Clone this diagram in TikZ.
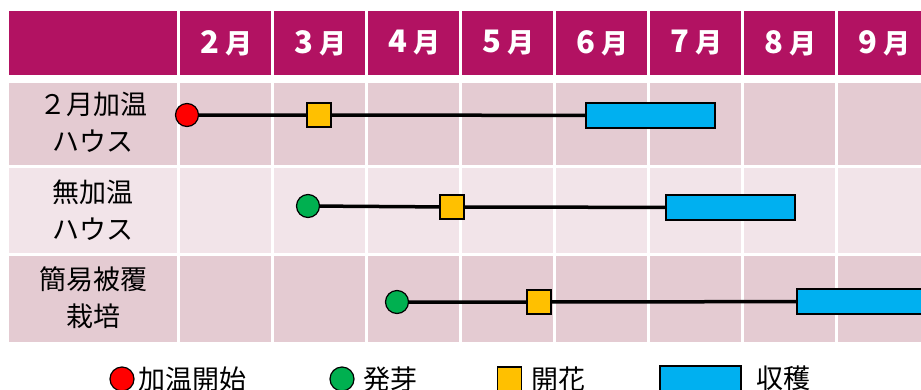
\documentclass[tikz,border=0pt]{standalone}
\usepackage{fontspec}
\setmainfont{Noto Sans CJK JP}
\usetikzlibrary{positioning}
\definecolor{headfill}{RGB}{178,18,98}
\definecolor{rowdark}{RGB}{228,203,210}
\definecolor{rowlight}{RGB}{242,228,233}
\definecolor{heatred}{RGB}{255,0,0}
\definecolor{sproutgreen}{RGB}{0,176,80}
\definecolor{bloomyellow}{RGB}{255,192,0}
\definecolor{harvestblue}{RGB}{0,176,240}

\begin{document}
\begin{tikzpicture}[
  x=1pt, y=-1pt,
  every node/.style={inner sep=0pt},
  month/.style={
    text=white, font=\fontsize{27}{27}\selectfont\bfseries
  },
  rowlabel/.style={
    align=center, font=\fontsize{27}{37}\selectfont
  },
  legendtext/.style={
    anchor=west, font=\fontsize{27}{27}\selectfont
  },
  heating/.style={
    circle, draw, line width=1.2pt, fill=heatred, minimum size=23pt
  },
  sprout/.style={
    circle, draw, line width=1.2pt, fill=sproutgreen, minimum size=23pt
  },
  bloom/.style={
    rectangle, draw, line width=1.2pt, fill=bloomyellow, minimum size=24pt
  },
  harvest/.style={
    rectangle, draw, line width=1.2pt, fill=harvestblue,
    minimum width=129pt, minimum height=25pt
  },
  period/.style={
    line width=3.5pt
  }
  ]
  \useasboundingbox (0,0) rectangle (921,389);
  \foreach \top/\bot/\shade in {11/75/headfill, 83/165/rowdark, 168/253/rowlight, 256/342/rowdark} {
    \fill[\shade] (9,\top) rectangle (177,\bot);
    \foreach \i in {0,...,7}
      \fill[\shade] ({180+94*\i},\top) rectangle ({271+94*\i},\bot);
  }
  \foreach \m [count=\i from 0] in {2,3,4,5,6,7,8,9}
    \node[month] (m\i) at ({226.5+94*\i},43) {{\fontsize{31}{31}\selectfont\m}\hspace{7pt}月};

  \node[rowlabel] (r1) at (93,122) {２月加温\\ハウス};
  \node[rowlabel] (r2) at (93,210) {無加温\\ハウス};
  \node[rowlabel] (r3) at (93,298) {簡易被覆\\栽培};

  \node[heating] (s1) at (187,115) {};
  \node[bloom] (f1) at (319,115) {};
  \node[harvest] (h1) at (650.5,115.5) {};
  \draw[period] (s1) -- (f1) -- (h1);

  \node[sprout] (s2) at (308,206) {};
  \node[bloom] (f2) at (452,207) {};
  \node[harvest] (h2) at (730.5,207.5) {};
  \draw[period] (s2) -- (f2) -- (h2);

  \node[sprout] (s3) at (397,302) {};
  \node[bloom] (f3) at (539,302) {};
  \node[harvest] (h3) at (861.5,301.5) {};
  \draw[period] (s3) -- (f3) -- (h3);

  \node[heating, minimum size=24pt] (lheat) at (122,379) {};
  \node[legendtext, right=4pt of lheat] (theat) {加温開始};
  \node[sprout, minimum size=24pt] (lsprout) at (342,379) {};
  \node[legendtext, right=9pt of lsprout] (tsprout) {発芽};
  \node[bloom] (lbloom) at (509.5,379) {};
  \node[legendtext, right=9pt of lbloom] (tbloom) {開花};
  \node[harvest, minimum width=81pt] (lharvest) at (700.5,378.5) {};
  \node[legendtext, right=15pt of lharvest] (tharvest) {収穫};
\end{tikzpicture}
\end{document}
